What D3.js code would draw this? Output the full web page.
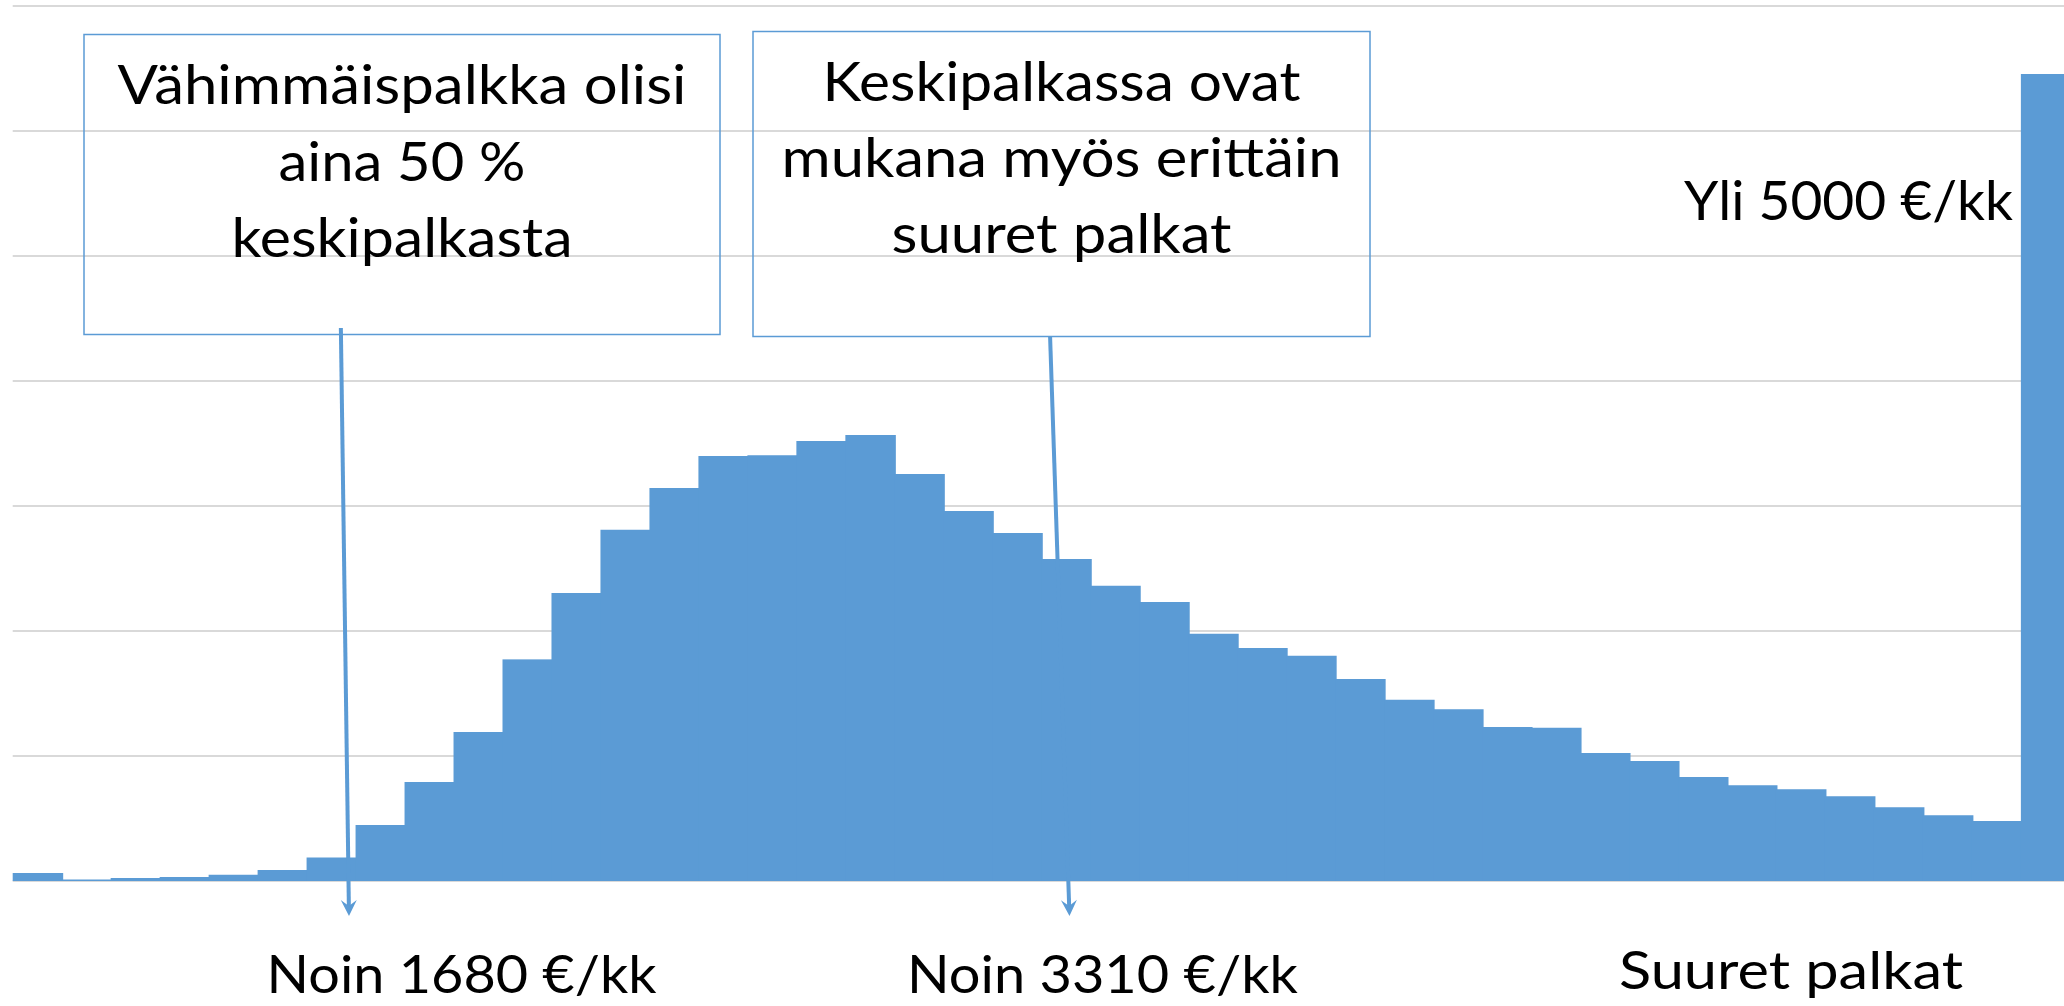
<!DOCTYPE html>
<html lang="fi">
<head>
    <meta charset="UTF-8">
    <title>Palkkajakauma</title>
    <style>
        body {
            margin: 0;
            background: #fff;
        }
        svg {
            display: block;
        }
        .grid line {
            stroke: #d9d9d9;
            stroke-width: 2px;
        }
        .bar {
            fill: #5b9bd5;
        }
        .box {
            fill: #fff;
            fill-opacity: 0;
            stroke: #5b9bd5;
            stroke-width: 1.5px;
        }
        .leader {
            stroke: #5b9bd5;
            stroke-width: 4px;
        }
        .note {
            font-family: Lato, "Open Sans", sans-serif;
            font-size: 55px;
            fill: #000;
        }
        .bottom {
            font-size: 53px;
        }
    </style>
</head>
<body>
    <svg width="2064" height="1006"></svg>
    <script src="https://d3js.org/d3.v7.min.js"></script>
    <script>

// 100 € bins, the first one everything below 1000 and the last one over 5000
const bins = ["alle 1000"]
    .concat(d3.range(1000, 5000, 100).map(d => `${d}–${d + 99}`))
    .concat(["yli 5000"]);

// bar heights (one unit = one gridline step)
const shares = [
    0.064, 0.012, 0.024, 0.032, 0.050, 0.088, 0.188, 0.448, 0.792, 1.192,
    1.773, 2.304, 2.810, 3.144, 3.400, 3.406, 3.520, 3.568, 3.256, 2.960,
    2.784, 2.576, 2.362, 2.232, 1.978, 1.864, 1.802, 1.616, 1.450, 1.374,
    1.232, 1.226, 1.024, 0.960, 0.832, 0.766, 0.734, 0.678, 0.590, 0.526,
    0.480, 6.456
];

const gridTicks = [0, 1, 2, 3, 4, 5, 6, 7];

const noteMinWage = ["Vähimmäispalkka olisi", "aina 50 %", "keskipalkasta"];
const noteMeanWage = ["Keskipalkassa ovat", "mukana myös erittäin", "suuret palkat"];
const labelTop = "Yli 5000 €/kk";
const labelMin = "Noin 1680 €/kk";
const labelMean = "Noin 3310 €/kk";
const labelHigh = "Suuret palkat";

        const svg = d3.select("svg"),
              width = +svg.attr("width"),
              height = +svg.attr("height");

        svg.append("rect")
            .attr("width", width)
            .attr("height", height)
            .attr("fill", "#fff");

        // plot is cut on the right, the last bar runs past the edge
        const left = 12.7,
              step = 48.98;

        const x = d3.scaleBand()
            .domain(bins)
            .range([left, left + bins.length * step])
            .padding(0);

        // position in bin units, used for the arrows
        const xPos = d3.scaleLinear()
            .domain([0, bins.length])
            .range(x.range());

        const y = d3.scaleLinear()
            .domain([0, 7])
            .range([881, 6]);

        // gridlines
        svg.append("g")
            .attr("class", "grid")
            .selectAll("line")
            .data(gridTicks)
            .join("line")
            .attr("x1", left)
            .attr("x2", width)
            .attr("y1", d => y(d))
            .attr("y2", d => y(d));

        // bars, a little overlap so no seams show between them
        svg.append("g")
            .selectAll("rect")
            .data(shares)
            .join("rect")
            .attr("class", "bar")
            .attr("x", (d, i) => x(bins[i]))
            .attr("width", x.bandwidth() + 1.5)
            .attr("y", d => y(d))
            .attr("height", d => y(0) - y(d));

        function textLine(str, cx, baseline, len, anchor, cls) {
            svg.append("text")
                .attr("class", "note" + (cls ? " " + cls : ""))
                .attr("x", cx)
                .attr("y", baseline)
                .attr("text-anchor", anchor || "middle")
                .attr("textLength", len)
                .attr("lengthAdjust", "spacingAndGlyphs")
                .text(str);
        }

        function noteBox(lines, bx, by, bw, bh, baselines, widths) {
            svg.append("rect")
                .attr("class", "box")
                .attr("x", bx)
                .attr("y", by)
                .attr("width", bw)
                .attr("height", bh);
            lines.forEach((l, i) => textLine(l, bx + bw / 2, baselines[i], widths[i]));
        }

        // straight leader with a stealth arrow head at the end
        function leader(x1, y1, x2, y2) {
            const a = Math.atan2(y2 - y1, x2 - x1) * 180 / Math.PI;
            const len = Math.hypot(x2 - x1, y2 - y1);
            const g = svg.append("g")
                .attr("transform", `translate(${x1},${y1}) rotate(${a})`);
            g.append("line")
                .attr("class", "leader")
                .attr("x2", len - 9);
            g.append("path")
                .attr("d", `M${len},0L${len - 16},-8L${len - 10},0L${len - 16},8Z`)
                .attr("fill", "#5b9bd5");
        }

        noteBox(noteMinWage, 84, 34.5, 636, 300, [104, 180.5, 257], [569, 247, 341]);
        noteBox(noteMeanWage, 753, 31.5, 617, 305, [100.5, 177, 253], [478, 560, 340]);

        leader(xPos(6.70), 328, xPos(6.866), 916);
        leader(xPos(21.18), 337, xPos(21.576), 916);

        textLine(labelTop, 1684, 220, 329, "start");
        textLine(labelMin, 266.6, 993, 390, "start", "bottom");
        textLine(labelMean, 907, 993, 391, "start", "bottom");
        textLine(labelHigh, 1619, 989, 344, "start", "bottom");
    </script>
</body>
</html>
